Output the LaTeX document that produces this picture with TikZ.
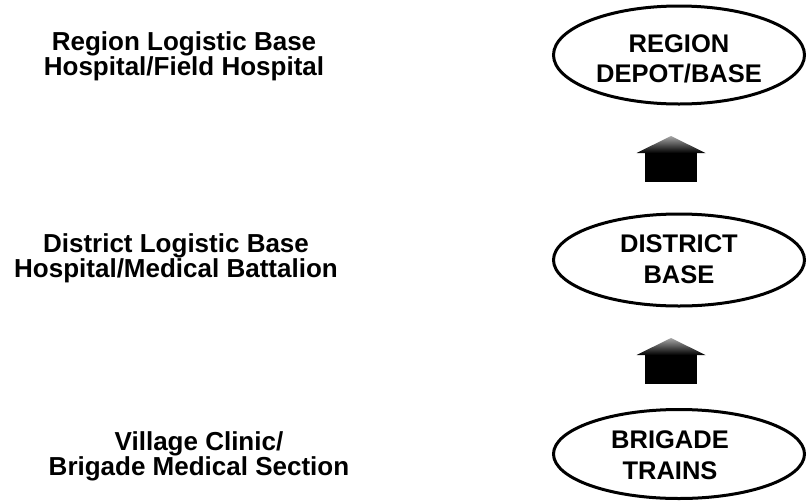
\documentclass[tikz,border=0pt]{standalone}
\usepackage{fontspec}
\setmainfont{Liberation Sans}
\usetikzlibrary{shapes.geometric,calc}
\tikzset{
  lbl/.style={align=center, font=\fontsize{26}{25}\selectfont\bfseries, inner sep=0pt},
  ell/.style={ellipse, draw=black, line width=3pt, inner sep=0pt, minimum width=251pt},
  ettext/.style={align=center, inner sep=0pt, font=\fontsize{25.5}{30.5}\selectfont\bfseries},
  uparrow/.pic={
    \shade[top color=black!35, bottom color=black] (-34.5,-6) -- (0,-23) -- (34.5,-6) -- cycle;
    \fill[black] (-26,-6.5) rectangle (26,23);
  }
}
\begin{document}
\begin{tikzpicture}[x=1pt, y=-1pt]
\useasboundingbox (0,0) rectangle (807,504);
\node[lbl] (t1) at (184,56) {Region Logistic Base\\Hospital/Field Hospital};
\node[lbl] (t2) at (176,258) {District Logistic Base\\Hospital/Medical Battalion};
\node[lbl] (t3) at (199,456) {Village Clinic/\\Brigade Medical Section};
\node[ell, minimum height=98pt] (r) at (679,55) {};
\node[ell, minimum height=92pt] (d) at (679,260) {};
\node[ell, minimum height=89pt] (b) at (679,454) {};
\node[ettext] (rt) at (679,59) {REGION\\DEPOT/BASE};
\node[ettext] (dt) at (679,259) {DISTRICT\\BASE};
\node[ettext] (bt) at (670,455) {BRIGADE\\TRAINS};
\pic at (671,159) {uparrow};
\pic at (671,361) {uparrow};
\end{tikzpicture}
\end{document}
